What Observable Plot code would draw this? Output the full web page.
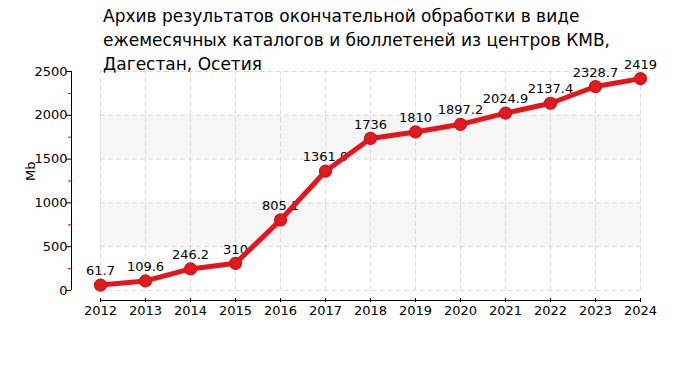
<!DOCTYPE html>
<html><head><meta charset="utf-8">
<script src="https://cdn.jsdelivr.net/npm/d3@7"></script>
<script src="https://cdn.jsdelivr.net/npm/@observablehq/plot@0.6"></script>
<style>
body{margin:0;background:#fff;}
#wrap{position:relative;width:700px;height:375px;}
#title{position:absolute;left:103px;top:4px;font-family:"DejaVu Sans",sans-serif;font-size:17px;line-height:24px;color:#000;z-index:2;}
</style></head><body>
<div id="wrap"><div id="title">Архив результатов окончательной обработки в виде<br>ежемесячных каталогов и бюллетеней из центров КМВ,<br>Дагестан, Осетия</div><div id="chart"></div></div>
<script>
const years = [2012,2013,2014,2015,2016,2017,2018,2019,2020,2021,2022,2023,2024];
const values = [61.7,109.6,246.2,310,805.1,1361.9,1736,1810,1897.2,2024.9,2137.4,2328.7,2419];
const yTicks = [0,500,1000,1500,2000,2500];
const yMinor = [250,750,1250,1750,2250];
const bands = [[500,1000],[1500,2000]];
const yLabel = "Mb";

const data = years.map((y,i)=>({year:y, value:values[i]}));
const bandData = bands.map(([a,b])=>({a,b}));

const chart = Plot.plot({
  width:700, height:375,
  marginLeft:100, marginRight:60, marginTop:71, marginBottom:85,
  style:{fontFamily:"DejaVu Sans, sans-serif", fontSize:"13px", background:"#fff", color:"#000"},
  x:{domain:[2012,2024], type:"linear"},
  y:{domain:[0,2500]},
  marks:[
    Plot.rectY(bandData, {x1:2012, x2:2024, y1:"a", y2:"b", fill:"#f6f6f6"}),
    Plot.gridX(years, {stroke:"#ccc", strokeOpacity:0.7, strokeDasharray:"5,3", y1:0, y2:2500}),
    Plot.gridY(yTicks, {stroke:"#ccc", strokeOpacity:0.7, strokeDasharray:"5,3", x1:2012, x2:2024}),
    Plot.ruleX([2012], {y1:0, y2:2500, dx:-29, stroke:"#000"}),
    Plot.axisY(yTicks, {tickSize:5, dx:-29, tickPadding:-1, label:null, fontSize:13, tickFormat:d=>String(d)}),
    Plot.axisY(yMinor, {tickSize:3, dx:-29, stroke:"red", text:null, label:null}),
    Plot.ruleY([0], {x1:2012, x2:2024, dy:10, stroke:"#000"}),
    Plot.axisX(years, {tickSize:4, dy:8, tickFormat:d=>String(d), label:null, tickPadding:3, fontSize:13}),
    Plot.text([yLabel], {frameAnchor:"left", dx:-70, rotate:-90, fontSize:13, text:d=>d, y:1250}),
    Plot.text(data, {x:"year", y:"value", text:d=>String(d.value), dy:-14, fontSize:13, fill:"#000"}),
    Plot.line(data, {x:"year", y:"value", stroke:"#e8141b", strokeWidth:5}),
    Plot.dot(data, {x:"year", y:"value", r:6, fill:"#e31a1c", stroke:"#c0181c", strokeWidth:1.2})
  ]
});
document.getElementById("chart").appendChild(chart);
</script>
</body></html>
